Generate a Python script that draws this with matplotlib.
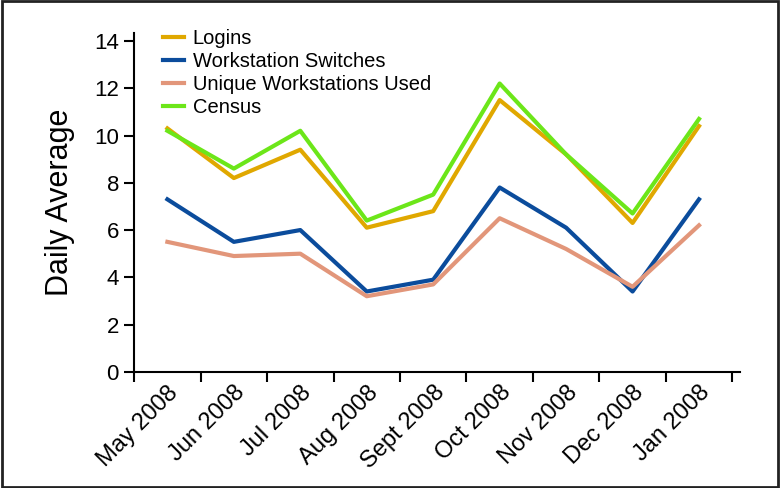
import matplotlib

matplotlib.use("Agg")
import matplotlib.pyplot as plt
from matplotlib.patches import Rectangle

months = ["May 2008", "Jun 2008", "Jul 2008", "Aug 2008", "Sept 2008",
          "Oct 2008", "Nov 2008", "Dec 2008", "Jan 2008"]
logins = [10.3, 8.2, 9.4, 6.1, 6.8, 11.5, 9.2, 6.3, 10.4]
switches = [7.3, 5.5, 6.0, 3.4, 3.9, 7.8, 6.1, 3.4, 7.3]
unique_ws = [5.5, 4.9, 5.0, 3.2, 3.7, 6.5, 5.2, 3.6, 6.2]
census = [10.2, 8.6, 10.2, 6.4, 7.5, 12.2, 9.2, 6.7, 10.7]

plt.rcParams["font.family"] = ["Liberation Sans", "DejaVu Sans"]

fig = plt.figure(figsize=(7.8, 4.88), dpi=100)
ax = fig.add_axes([0.172, 0.238, 0.777, 0.695])

x = list(range(len(months)))
ax.plot(x, logins, color="#E0A800", lw=3, label="Logins")
ax.plot(x, switches, color="#0B4C9C", lw=3, label="Workstation Switches")
ax.plot(x, unique_ws, color="#E2967A", lw=3, label="Unique Workstations Used")
ax.plot(x, census, color="#6CE619", lw=3, label="Census")

ax.set_xlim(-0.5, 8.62)
ax.set_ylim(0, 14.35)
ax.set_yticks(range(0, 15, 2))
ax.set_xticks(x)
ax.set_xticklabels(months, rotation=45, ha="right", rotation_mode="anchor")
ax.set_xticks([i - 0.5 for i in range(len(months) + 1)], minor=True)
ax.tick_params(axis="x", which="major", length=0, pad=7, labelsize=17)
ax.tick_params(axis="x", which="minor", length=7, width=1.5, direction="out")
ax.tick_params(axis="y", length=7, width=1.5, labelsize=16, pad=4)

for side in ["top", "right"]:
    ax.spines[side].set_visible(False)
for side in ["left", "bottom"]:
    ax.spines[side].set_linewidth(1.5)

ax.set_ylabel("Daily Average", fontsize=22, labelpad=14)

ax.legend(loc="upper left", bbox_to_anchor=(0.035, 1.035), frameon=False,
          fontsize=14.5, handlelength=1.0, handletextpad=0.45, labelspacing=0.2,
          borderaxespad=0)

fig.patches.append(Rectangle((0.002, 0.003), 0.996, 0.994, transform=fig.transFigure,
                             fill=False, edgecolor="#222222", lw=2))

fig.savefig("out.png", dpi=100)
plt.close(fig)
